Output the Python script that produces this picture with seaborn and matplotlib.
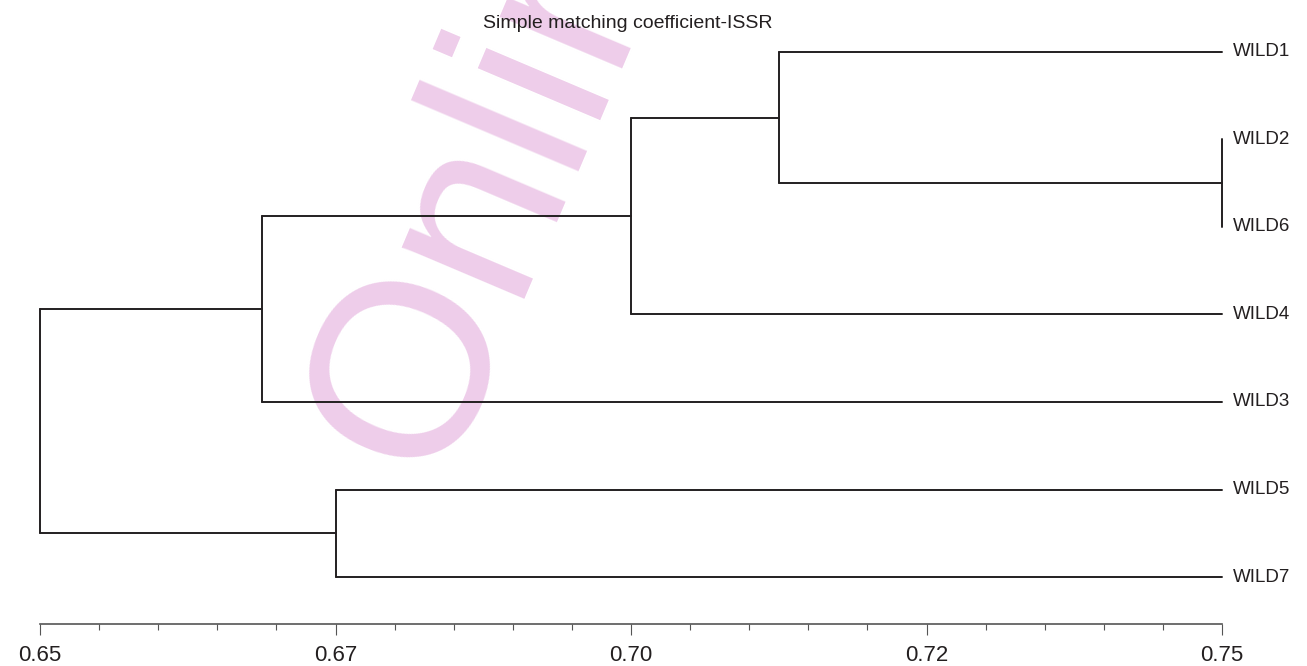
import matplotlib
matplotlib.use("Agg")
import matplotlib.pyplot as plt
import seaborn as sns
import pandas as pd
import numpy as np
from matplotlib.ticker import FixedLocator, FixedFormatter

# leaf order from top to bottom
leaves = ["WILD1", "WILD2", "WILD6", "WILD4", "WILD3", "WILD5", "WILD7"]
# merges: (left child, right child, similarity level)
merge_left = ["WILD2", "WILD1", "c2", "c3", "WILD5", "c4"]
merge_right = ["WILD6", "c1", "WILD4", "WILD3", "WILD7", "c5"]
merge_level = [0.75, 0.7125, 0.70, 0.6688, 0.675, 0.65]
leaf_level = 0.75
major_ticks = [0.65, 0.675, 0.70, 0.725, 0.75]
tick_labels = ["0.65", "0.67", "0.70", "0.72", "0.75"]
title_text = "Simple matching coefficient-ISSR"


def build_segments():
    pos = {name: (leaf_level, i) for i, name in enumerate(leaves)}
    rows = []
    seg = 0
    for k, (a, b, h) in enumerate(zip(merge_left, merge_right, merge_level)):
        xa, ya = pos[a]
        xb, yb = pos[b]
        for x0, y0 in ((xa, ya), (xb, yb)):
            rows.append({"seg": seg, "x": x0, "y": y0})
            rows.append({"seg": seg, "x": h, "y": y0})
            seg += 1
        rows.append({"seg": seg, "x": h, "y": ya})
        rows.append({"seg": seg, "x": h, "y": yb})
        seg += 1
        pos["c%d" % (k + 1)] = (h, (ya + yb) / 2)
    return pd.DataFrame(rows)


def plot_dendrogram(df):
    sns.set_style("white")
    plt.rcParams["font.family"] = ["Liberation Sans", "DejaVu Sans"]
    fig = plt.figure(figsize=(13.07, 6.66), dpi=100)
    ax = fig.add_axes([0.0, 42 / 666, 1.0, 624 / 666])
    ax.patch.set_visible(False)

    # journal watermark behind the tree
    fig.text(435 / 1307, 1 - 482 / 666, "Online", rotation=67, rotation_mode="anchor",
             ha="left", va="baseline", fontsize=180, color="#eecdea",
             family="Liberation Sans", zorder=-5)

    sns.lineplot(data=df, x="x", y="y", units="seg", estimator=None, sort=False,
                 color="#231f20", linewidth=1.4, ax=ax, legend=False)

    px = 0.1 / 1182
    ax.set_xlim(0.65 - 40 * px, 0.75 + 85 * px)
    ax.set_ylim(6.537, -0.594)

    for i, name in enumerate(leaves):
        ax.text(leaf_level + 11 * px, i, name, ha="left", va="center",
                fontsize=13.5, color="#231f20")
    ax.text(0.6997, -0.32, title_text, ha="center", va="center", fontsize=14, color="#231f20")

    for s in ["top", "right", "left"]:
        ax.spines[s].set_visible(False)
    ax.spines["bottom"].set_bounds(0.65, 0.75)
    ax.spines["bottom"].set_color("#555555")
    ax.spines["bottom"].set_linewidth(1.2)
    ax.xaxis.set_major_locator(FixedLocator(major_ticks))
    ax.xaxis.set_major_formatter(FixedFormatter(tick_labels))
    ax.xaxis.set_minor_locator(FixedLocator(np.linspace(0.65, 0.75, 21)))
    ax.tick_params(axis="x", which="major", length=8, width=0.8, color="#555555",
                   direction="out", bottom=True, labelsize=16, pad=7, labelcolor="#231f20")
    ax.tick_params(axis="x", which="minor", length=4.5, width=0.8, color="#555555",
                   direction="out", bottom=True)
    ax.set_yticks([])
    ax.set_xlabel("")
    ax.set_ylabel("")
    fig.savefig("out.png", dpi=100)


if __name__ == "__main__":
    data = build_segments()
    plot_dendrogram(data)
